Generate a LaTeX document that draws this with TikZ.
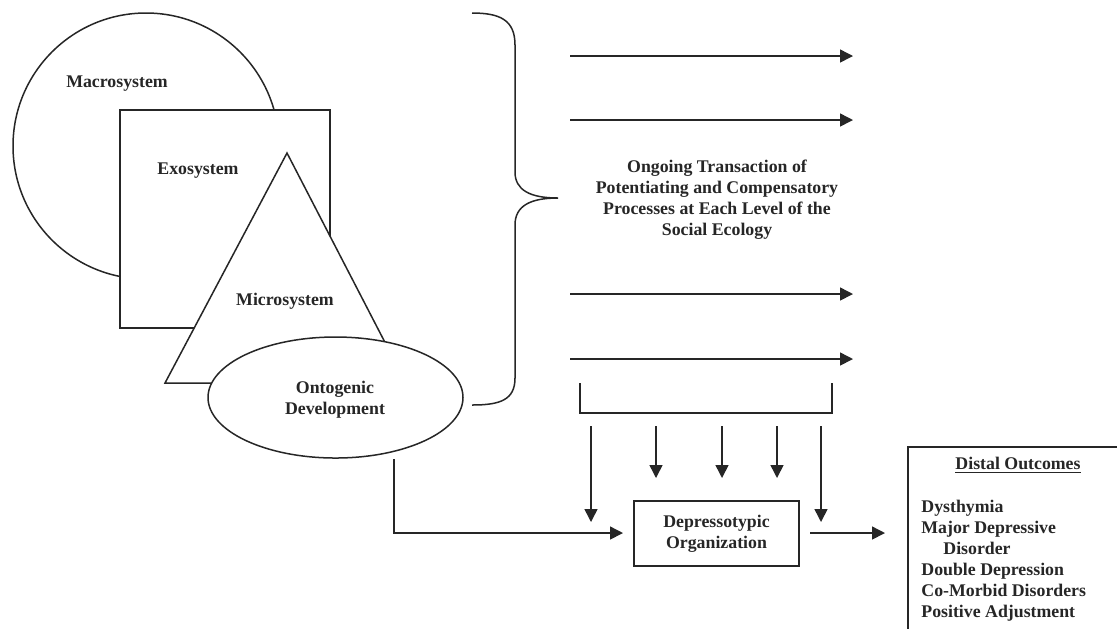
\documentclass[tikz,border=0pt]{standalone}
\usepackage{fontspec}
\setmainfont{Liberation Serif}
\usetikzlibrary{arrows.meta,shapes.geometric}
\begin{document}
\begin{tikzpicture}[x=0.5pt,y=-0.5pt,
  line/.style={draw=black!85, line width=0.75pt},
  arr/.style={line, -{Triangle[length=6.5pt,width=6.5pt]}},
  lbl/.style={font=\fontsize{8.9}{10.5}\selectfont\bfseries, text=black!85, inner sep=0pt, align=center},
]
\useasboundingbox (0,0) rectangle (1117,629);
% nested systems
\draw[line] (146,146) circle[radius=66.5pt];
\draw[line, fill=white] (120,110) rectangle (330,328);
\draw[line, fill=white] (287,153) -- (406,383) -- (165,383) -- cycle;
\node[line, fill=white, ellipse, minimum width=127.5pt, minimum height=60.5pt, inner sep=0pt] (onto) at (335.5,397.5) {};
\node[lbl] (macro) at (117,84) {Macrosystem};
\node[lbl] (exo) at (198,171) {Exosystem};
\node[lbl] (micro) at (285,301) {Microsystem};
\node[lbl] (ontotxt) at (335,400) {Ontogenic\\Development};
% brace
\draw[line] (472,13) .. controls (500,13) and (515,20) .. (515,45) -- (515,172)
  .. controls (515,190) and (530,198) .. (558,198)
  .. controls (530,198) and (515,206) .. (515,225) -- (515,378)
  .. controls (515,400) and (500,405) .. (472,405);
% horizontal arrows
\foreach \i/\y in {1/56, 2/120, 3/294, 4/359} {
  \coordinate (h\i s) at (570,\y);
  \coordinate (h\i e) at (853,\y);
  \draw[arr] (h\i s) -- (h\i e);
}
\node[lbl] (trans) at (717,200) {Ongoing Transaction of\\Potentiating and Compensatory\\Processes at Each Level of the\\Social Ecology};
% bracket
\draw[line] (580,383) -- (580,413) -- (832,413) -- (832,383);
% down arrows
\foreach \i/\x/\e in {1/591/522, 2/656/478, 3/722/478, 4/777/478, 5/821/522} {
  \coordinate (d\i s) at (\x,426);
  \coordinate (d\i e) at (\x,\e);
  \draw[arr] (d\i s) -- (d\i e);
}
% depressotypic organization
\node[line, lbl, draw, minimum width=82.5pt, minimum height=32.5pt] (dep) at (716.5,533.5) {Depressotypic\\Organization};
\coordinate (o1) at (394,459);
\coordinate (o2) at (623,533);
\draw[arr] (o1) |- (o2);
\coordinate (p1) at (810,533);
\coordinate (p2) at (885,533);
\draw[arr] (p1) -- (p2);
% distal outcomes
\draw[line] (1117,447) -- (908,447) -- (908,629);
\node[lbl] (dtitle) at (1018,465) {\underline{Distal Outcomes}};
\node[lbl, align=left, anchor=north west] (dlist) at (921,500) {Dysthymia\\Major Depressive\\\hspace*{11pt}Disorder\\Double Depression\\Co-Morbid Disorders\\Positive Adjustment};
\end{tikzpicture}
\end{document}
